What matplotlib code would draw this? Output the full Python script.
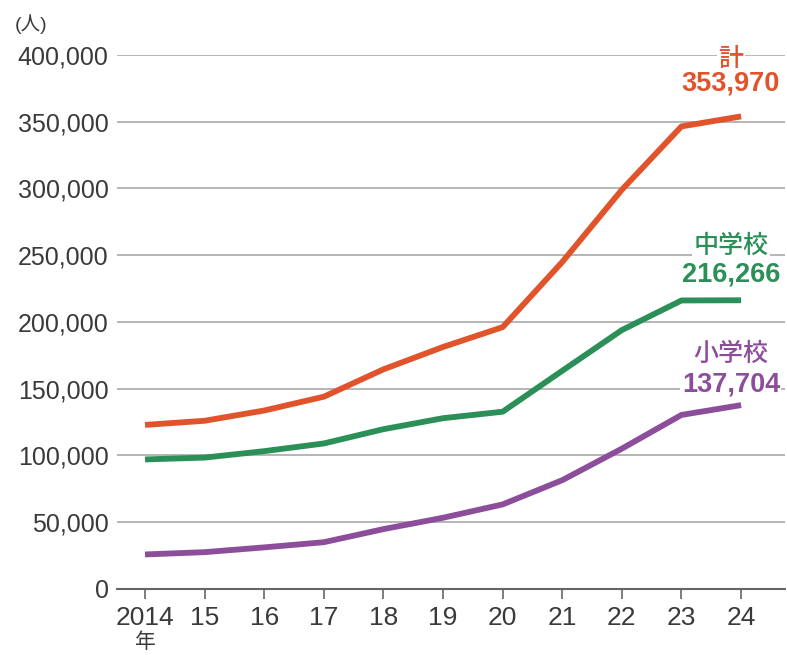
import matplotlib
matplotlib.use("Agg")
import matplotlib.pyplot as plt
from matplotlib.ticker import FuncFormatter

plt.rcParams['font.family'] = ['Liberation Sans', 'Noto Sans CJK JP', 'DejaVu Sans']

years = [2014, 2015, 2016, 2017, 2018, 2019, 2020, 2021, 2022, 2023, 2024]
year_labels = ["2014", "15", "16", "17", "18", "19", "20", "21", "22", "23", "24"]
total = [122897, 125991, 133683, 144031, 164528, 181272, 196127, 244940, 299048, 346482, 353970]
junior = [97033, 98408, 103235, 108999, 119687, 127922, 132777, 163442, 193936, 216112, 216266]
elementary = [25864, 27583, 31151, 35032, 44841, 53350, 63350, 81498, 105112, 130370, 137704]

red = "#e1532b"
green = "#2a9058"
purple = "#8c4e9b"
txt = "#3a3a3a"

fig = plt.figure(figsize=(7.87, 6.55), dpi=100)
ax = fig.add_axes([0.1487, 0.1008, 0.849, 0.8153])

ax.plot(years, total, color=red, linewidth=4.2, solid_capstyle="butt", zorder=3)
ax.plot(years, junior, color=green, linewidth=4.2, solid_capstyle="butt", zorder=3)
ax.plot(years, elementary, color=purple, linewidth=4.2, solid_capstyle="butt", zorder=3)

ax.set_xlim(2013.53, 2024.74)
ax.set_ylim(0, 400000)
ax.set_yticks(range(0, 400001, 50000))
ax.yaxis.set_major_formatter(FuncFormatter(lambda v, p: f"{int(v):,}"))
ax.set_xticks(years)
ax.set_xticklabels(year_labels)
ax.grid(axis="y", color="#b0b0b0", linewidth=1.3)
ax.set_axisbelow(True)
for s in ["top", "right", "left"]:
    ax.spines[s].set_visible(False)
ax.spines["bottom"].set_color("#666666")
ax.spines["bottom"].set_linewidth(1.5)
ax.tick_params(axis="y", length=0, pad=6, labelsize=18, labelcolor=txt)
ax.tick_params(axis="x", length=7, width=1.2, color="#666666", pad=5, labelsize=19, labelcolor=txt)

fig.text(31 / 787, 1 - 24 / 655, "(人)", fontsize=14, color=txt, va="center", ha="center")
fig.text(145 / 787, 1 - 642 / 655, "年", fontsize=15, color=txt, ha="center", va="center")

def label(name, value, y_name, y_val, color):
    ax.text(2023.83, y_name, name, color=color, fontsize=18, ha="center", va="center",
            family=["Noto Sans CJK JP"], fontweight="medium",
            bbox=dict(facecolor="white", edgecolor="none", pad=1))
    ax.text(2023.83, y_val, f"{value:,}", color=color, fontsize=19.5, ha="center", va="center",
            fontweight="bold",
            bbox=dict(facecolor="white", edgecolor="none", pad=1))

label("計", total[-1], 397000, 378300, red)
label("中学校", junior[-1], 256900, 235200, green)
label("小学校", elementary[-1], 176000, 152800, purple)

fig.savefig("out.png", dpi=100)
